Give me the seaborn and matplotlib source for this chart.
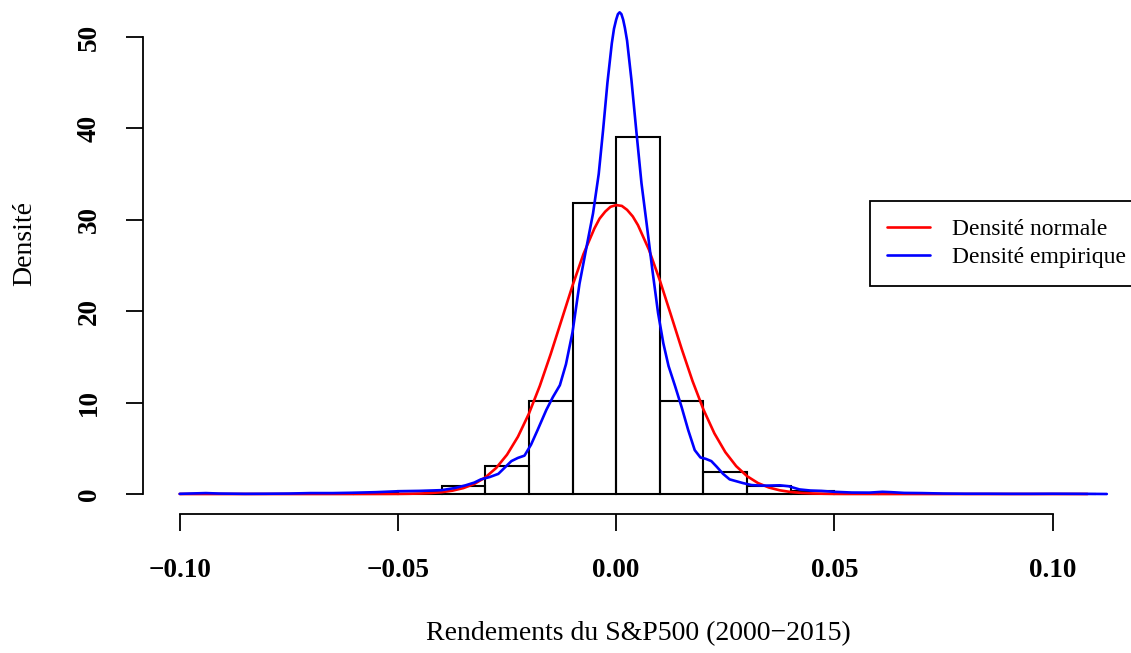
import numpy as np
import pandas as pd
import matplotlib
matplotlib.use("Agg")
import matplotlib.pyplot as plt
import seaborn as sns

# ---- data ----
bin_edges = [-0.10, -0.09, -0.08, -0.07, -0.06, -0.05, -0.04, -0.03, -0.02, -0.01,
             0.00, 0.01, 0.02, 0.03, 0.04, 0.05, 0.06, 0.07, 0.08, 0.09, 0.10, 0.11]
bin_density = [0.03, 0.0, 0.02, 0.05, 0.13, 0.30, 0.90, 3.05, 10.2, 31.8,
               39.1, 10.2, 2.45, 0.90, 0.35, 0.12, 0.05, 0.0, 0.0, 0.0, 0.03]

normal_x = [-0.100, -0.080, -0.060, -0.0525,
            -0.0500, -0.0475, -0.0450, -0.0425, -0.0400, -0.0375, -0.0350, -0.0325,
            -0.0300, -0.0275, -0.0250, -0.0225, -0.0200, -0.0175, -0.0150, -0.0125,
            -0.0100, -0.0075, -0.0050, -0.0038, -0.0025, -0.0013, 0.0000, 0.0013,
            0.0025, 0.0038, 0.0050, 0.0075,
            0.0100, 0.0125, 0.0150, 0.0175, 0.0200, 0.0225, 0.0250, 0.0275,
            0.0300, 0.0325, 0.0350, 0.0375, 0.0400, 0.0425, 0.0450, 0.0475,
            0.0500, 0.0525, 0.060, 0.080, 0.108]
normal_y = [0.0, 0.0, 0.0004, 0.005,
            0.0116, 0.025, 0.052, 0.103, 0.198, 0.365, 0.646, 1.101,
            1.805, 2.842, 4.305, 6.269, 8.781, 11.82, 15.31, 19.05,
            22.80, 26.24, 29.04, 30.13, 30.90, 31.42, 31.61, 31.52,
            31.09, 30.37, 29.41, 26.74,
            23.38, 19.66, 15.89, 12.35, 9.233, 6.635, 4.584, 3.045,
            1.946, 1.195, 0.706, 0.401, 0.219, 0.115, 0.058, 0.028,
            0.013, 0.006, 0.0005, 0.0, 0.0]

empirical_x = [-0.1000, -0.0970, -0.0940, -0.0910, -0.0850, -0.0800, -0.0750, -0.0700,
               -0.0650, -0.0600, -0.0550, -0.0500, -0.0450, -0.0400, -0.0370, -0.0345,
               -0.0325, -0.0310, -0.0290, -0.0270, -0.0255, -0.0240, -0.0225, -0.0210,
               -0.0195, -0.0180, -0.0160, -0.0145, -0.0129, -0.0115, -0.0100, -0.0084,
               -0.0068, -0.0053, -0.0040, -0.0030, -0.0020, -0.0010, -0.0005, 0.0000,
               0.0004, 0.0008, 0.0012, 0.0016, 0.0020, 0.0025, 0.0035, 0.0046,
               0.0058, 0.0070, 0.0083, 0.0096,
               0.0108, 0.0120, 0.0135, 0.0150, 0.0165, 0.0180, 0.0193, 0.0205,
               0.0218, 0.0230, 0.0245, 0.0260, 0.0275, 0.0290, 0.0310, 0.0330,
               0.0350, 0.0375, 0.0395, 0.0420, 0.0445, 0.0470, 0.0500, 0.0540,
               0.0580, 0.0610, 0.0630, 0.0660, 0.0700, 0.0750, 0.0800, 0.0850,
               0.0900, 0.0950, 0.1000, 0.1060, 0.1124]
empirical_y = [0.02, 0.06, 0.10, 0.05, 0.02, 0.03, 0.05, 0.10,
               0.10, 0.14, 0.20, 0.30, 0.34, 0.42, 0.65, 0.95,
               1.25, 1.60, 1.85, 2.20, 2.90, 3.60, 3.95, 4.20,
               5.40, 7.00, 9.20, 10.6, 11.9, 14.2, 17.7, 23.0,
               27.0, 30.7, 35.0, 39.8, 45.0, 49.3, 50.9, 51.9,
               52.5, 52.7, 52.5, 51.9, 51.0, 49.6, 45.3, 39.8,
               34.0, 29.5, 24.5, 19.8,
               16.5, 14.0, 11.8, 9.5, 7.0, 4.8, 4.0, 3.85,
               3.6, 3.0, 2.2, 1.6, 1.4, 1.2, 0.98, 0.92,
               0.92, 0.95, 0.85, 0.50, 0.38, 0.34, 0.24, 0.16,
               0.15, 0.24, 0.20, 0.12, 0.10, 0.05, 0.03, 0.03,
               0.02, 0.02, 0.03, 0.02, 0.0]

x_ticks = [-0.10, -0.05, 0.00, 0.05, 0.10]
x_tick_labels = ["\u22120.10", "\u22120.05", "0.00", "0.05", "0.10"]
y_ticks = [0, 10, 20, 30, 40, 50]
y_tick_labels = ["0", "10", "20", "30", "40", "50"]

legend_labels = ["Densit\u00e9 normale", "Densit\u00e9 empirique"]
x_title = "Rendements du S&P500 (2000\u22122015)"
y_title = "Densit\u00e9"

# ---- figure ----
sns.set_style("white")
plt.rcParams["font.family"] = ["Liberation Serif", "DejaVu Serif"]
plt.rcParams["text.color"] = "black"
plt.rcParams["axes.labelcolor"] = "black"
plt.rcParams["xtick.color"] = "black"
plt.rcParams["ytick.color"] = "black"

W, H = 1131, 653
fig = plt.figure(figsize=(W / 100, H / 100), dpi=100)
ax_left, ax_right, ax_bottom, ax_top = 143, 1133, 514, 0
ax = fig.add_axes([ax_left / W, 1 - ax_bottom / H,
                   (ax_right - ax_left) / W, (ax_bottom - ax_top) / H])

centers = [(a + b) / 2 for a, b in zip(bin_edges[:-1], bin_edges[1:])]
hist_df = pd.DataFrame({"x": centers, "w": bin_density})
sns.histplot(data=hist_df, x="x", weights="w", bins=bin_edges, stat="count",
             fill=False, color="black", linewidth=1.5, element="bars", ax=ax)

sns.lineplot(x=normal_x, y=normal_y, color="red", linewidth=1.9, sort=False,
             estimator=None, label=legend_labels[0], ax=ax)
sns.lineplot(x=empirical_x, y=empirical_y, color="blue", linewidth=1.9, sort=False,
             estimator=None, label=legend_labels[1], ax=ax)

# scales matching the reference pixel mapping
ax.set_xlim(-0.1084, -0.1084 + 990 / 4365)
ax.set_ylim(-20 / 9.14, 494 / 9.14)

for s in ["top", "right"]:
    ax.spines[s].set_visible(False)
ax.spines["left"].set_bounds(0, 50)
ax.spines["bottom"].set_bounds(-0.10, 0.10)
for s in ["left", "bottom"]:
    ax.spines[s].set_linewidth(1.3)
    ax.spines[s].set_color("black")

ax.set_xticks(x_ticks)
ax.set_xticklabels(x_tick_labels, fontsize=19.5, fontweight="bold", color="black")
ax.set_yticks(y_ticks)
ax.set_yticklabels(y_tick_labels, fontsize=19.5, fontweight="bold", color="black",
                   rotation=90, va="center")
ax.tick_params(axis="both", direction="out", length=12.5, width=1.3,
               color="black", bottom=True, left=True)
ax.tick_params(axis="x", pad=19)
ax.tick_params(axis="y", pad=17)

ax.set_xlabel(x_title, fontsize=20, color="black")
ax.xaxis.set_label_coords(0.5, -(634 - 514) / 514)
ax.xaxis.label.set_va("center")
ax.set_ylabel(y_title, fontsize=20, color="black")
ax.yaxis.set_label_coords((25 - 143) / 990, (514 - 244) / 514)
ax.yaxis.label.set_va("center")

leg = ax.legend(loc="upper left", bbox_to_anchor=(870 / W, 1 - 201 / H),
                bbox_transform=fig.transFigure, fontsize=17, frameon=True,
                fancybox=False, framealpha=1, edgecolor="black",
                borderpad=0.74, handlelength=1.78, handletextpad=0.95,
                labelspacing=0.29, borderaxespad=0)
leg.get_frame().set_linewidth(1.3)
for line in leg.get_lines():
    line.set_linewidth(1.9)
for t in leg.get_texts():
    t.set_color("black")

fig.savefig("out.png", dpi=100)
